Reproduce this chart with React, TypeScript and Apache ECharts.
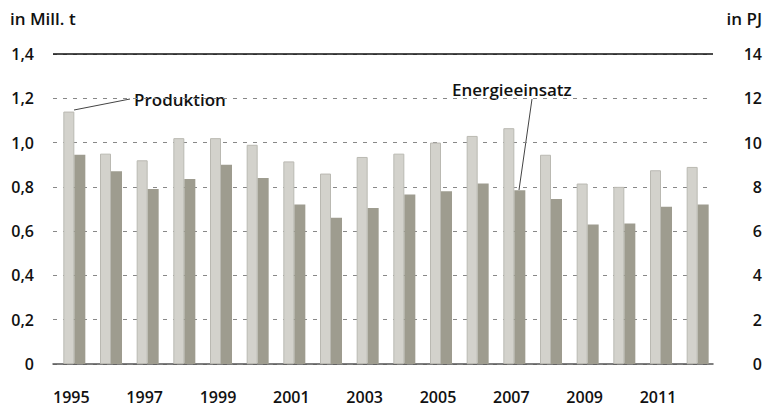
import React, { useEffect, useRef } from "react";
import * as echarts from "echarts";

const years = ["1995","1996","1997","1998","1999","2000","2001","2002","2003","2004","2005","2006","2007","2008","2009","2010","2011","2012"];
const produktion = [1.14, 0.95, 0.92, 1.02, 1.02, 0.99, 0.915, 0.86, 0.935, 0.95, 1.0, 1.03, 1.065, 0.945, 0.815, 0.8, 0.875, 0.89];
const energieeinsatz = [9.45, 8.7, 7.9, 8.35, 9.0, 8.4, 7.2, 6.6, 7.05, 7.65, 7.8, 8.15, 7.85, 7.45, 6.3, 6.35, 7.1, 7.2];
const spacer = years.map(() => null);
const leftTitle = "in Mill. t";
const rightTitle = "in PJ";

const FONT = "Open Sans";
const FS = 16;
const FW = 600;
const AFS = 17;

export default function App() {
  const ref = useRef<HTMLDivElement>(null);
  useEffect(() => {
    const chart = echarts.init(ref.current!, null, { renderer: "svg" });
    chart.setOption({
      animation: false,
      textStyle: { fontFamily: FONT },
      grid: { left: 53, right: 52, top: 54, bottom: 43, containLabel: false },
      xAxis: {
        type: "category",
        data: years,
        axisLine: { lineStyle: { color: "#555", width: 1.5 } },
        axisTick: { length: 16, lineStyle: { color: "#777", width: 1 } },
        axisLabel: { interval: 1, color: "#111", fontSize: FS, fontWeight: FW, fontFamily: FONT, margin: 24, lineHeight: 18 },
      },
      yAxis: [
        {
          type: "value",
          min: 0,
          max: 1.4,
          interval: 0.2,
          axisLine: { show: false },
          axisTick: { show: false },
          axisLabel: {
            color: "#111",
            fontSize: FS,
            fontWeight: FW,
            fontFamily: FONT,
            margin: 19,
            formatter: (v: number) => (v === 0 ? "0" : v.toFixed(1).replace(".", ",")),
          },
          splitLine: { lineStyle: { color: "#888", type: [4, 6], width: 1 } },
        },
        {
          type: "value",
          min: 0,
          max: 14,
          interval: 2,
          axisLine: { show: false },
          axisTick: { show: false },
          axisLabel: { color: "#111", fontSize: FS, fontWeight: FW, fontFamily: FONT, margin: 49, align: "right" },
          splitLine: { show: false },
        },
      ],
      series: [
        {
          name: "spacer",
          type: "bar",
          yAxisIndex: 0,
          data: spacer,
          barWidth: 6,
          barGap: "0%",
          silent: true,
          itemStyle: { color: "transparent" },
        },
        {
          name: "Produktion",
          type: "bar",
          yAxisIndex: 0,
          data: produktion,
          barWidth: 11,
          barGap: "0%",
          itemStyle: { color: "#d3d2cc", borderColor: "#bab9b2", borderWidth: 1 },
          markLine: {
            silent: true,
            symbol: "none",
            label: { show: false },
            lineStyle: { color: "#111", type: "solid", width: 1.5 },
            data: [{ yAxis: 1.4 }],
          },
        },
        {
          name: "Energieeinsatz",
          type: "bar",
          yAxisIndex: 1,
          data: energieeinsatz,
          barWidth: 11,
          barGap: "0%",
          itemStyle: { color: "#9e9c8f" },
        },
      ],
      graphic: [
        { type: "text", left: 10, top: 10, style: { text: leftTitle, font: `${FW} ${AFS}px '${FONT}'`, fill: "#111" } },
        { type: "text", right: 3, top: 10, style: { text: rightTitle, font: `${FW} ${AFS}px '${FONT}'`, fill: "#111" } },
        { type: "line", shape: { x1: 74, y1: 110, x2: 130, y2: 99 }, style: { stroke: "#444", lineWidth: 1 } },
        {
          type: "text",
          x: 132,
          y: 99,
          style: {
            text: "Produktion",
            font: `${FW} ${AFS}px '${FONT}'`,
            fill: "#111",
            verticalAlign: "middle",
            backgroundColor: "#fff",
            padding: [0, 2],
          },
        },
        { type: "line", shape: { x1: 532, y1: 99, x2: 519, y2: 190 }, style: { stroke: "#444", lineWidth: 1 } },
        {
          type: "text",
          x: 450,
          y: 89,
          style: {
            text: "Energieeinsatz",
            font: `${FW} ${AFS}px '${FONT}'`,
            fill: "#111",
            verticalAlign: "middle",
            backgroundColor: "#fff",
            padding: [0, 2],
          },
        },
      ],
    });
    return () => chart.dispose();
  }, []);
  return <div ref={ref} style={{ width: 765, height: 407, position: "absolute", left: 0, top: 0 }} />;
}
